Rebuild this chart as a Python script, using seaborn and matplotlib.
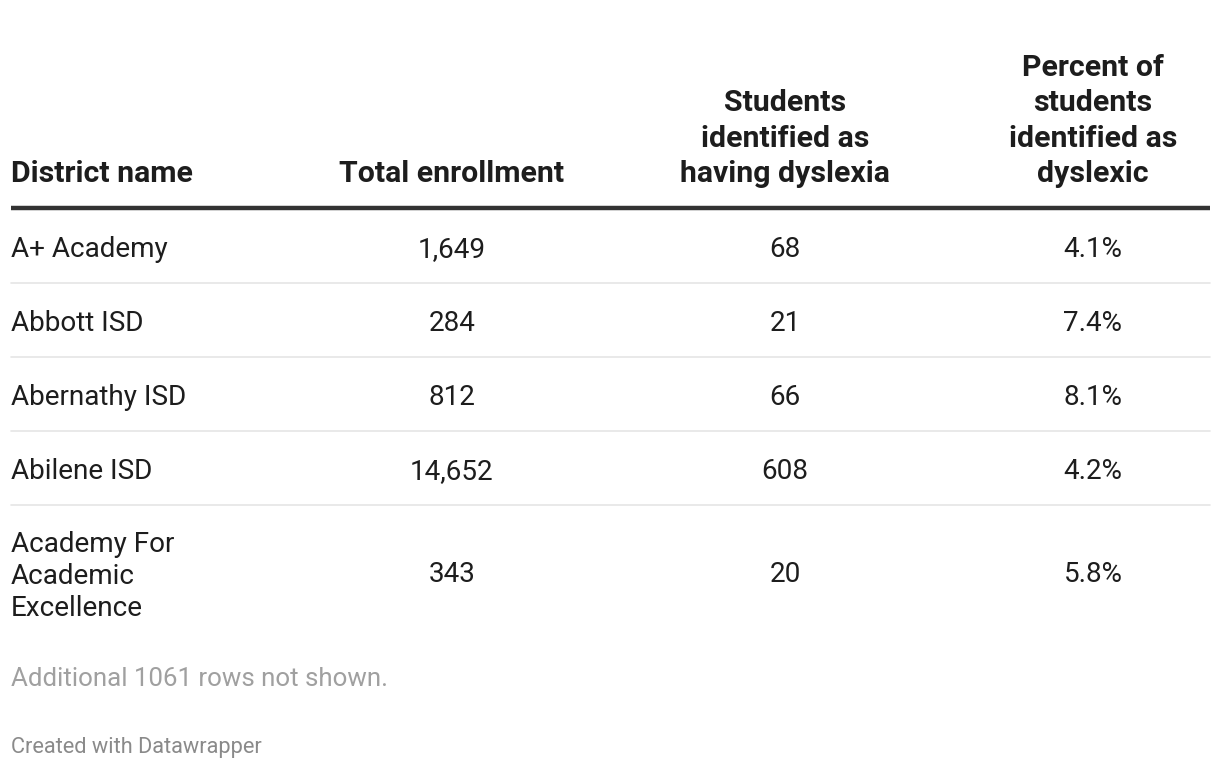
import matplotlib.pyplot as plt
import seaborn as sns

# Table data
districts = ["A+ Academy", "Abbott ISD", "Abernathy ISD", "Abilene ISD",
             "Academy For\nAcademic\nExcellence"]
enrollment = [1649, 284, 812, 14652, 343]
dyslexia = [68, 21, 66, 608, 20]
percent = [4.1, 7.4, 8.1, 4.2, 5.8]

headers = ["District name", "Total enrollment",
           "Students\nidentified as\nhaving dyslexia",
           "Percent of\nstudents\nidentified as\ndyslexic"]
note = "Additional 1061 rows not shown."
credit = "Created with Datawrapper"

sns.set_theme(style="white")
plt.rcParams['font.family'] = ['Roboto', 'DejaVu Sans']

fig = plt.figure(figsize=(12.2, 7.68), dpi=100)
ax = fig.add_axes([0, 0, 1, 1])
ax.set_xlim(0, 1220)
ax.set_ylim(768, 0)
ax.axis('off')

left, right = 11, 1210
col_x = [11, 452, 785, 1093]
col_ha = ['left', 'center', 'center', 'center']
dark = '#1d1d1d'

# header, bottom aligned
for x, ha, h in zip(col_x, col_ha, headers):
    ax.text(x, 182, h, ha=ha, va='baseline', fontsize=21.8, fontweight='bold',
            color=dark, linespacing=1.33)

ax.plot([left, right], [208, 208], color='#333333', lw=3.2, solid_capstyle='butt')

# rows
row_tops = [210, 284, 358, 432, 506]
row_bottoms = [283, 357, 431, 505, 640]
for i in range(len(districts)):
    yc = (row_tops[i] + row_bottoms[i]) / 2
    if i == len(districts) - 1:
        yc = 571
    vals = [districts[i], f"{enrollment[i]:,}", f"{dyslexia[i]}", f"{percent[i]:.1f}%"]
    for x, ha, v in zip(col_x, col_ha, vals):
        ax.text(x, yc, v, ha=ha, va='center_baseline', fontsize=20.1,
                color=dark, linespacing=1.25)
    if i < len(districts) - 1:
        ax.plot([left, right], [row_bottoms[i]] * 2, color='#e5e5e5', lw=1.2)

ax.text(11, 677, note, ha='left', va='center_baseline', fontsize=18.6, color='#a0a0a0')
ax.text(11, 745, credit, ha='left', va='center_baseline', fontsize=15.7, color='#8a8a8a')

fig.savefig('out.png', dpi=100)
